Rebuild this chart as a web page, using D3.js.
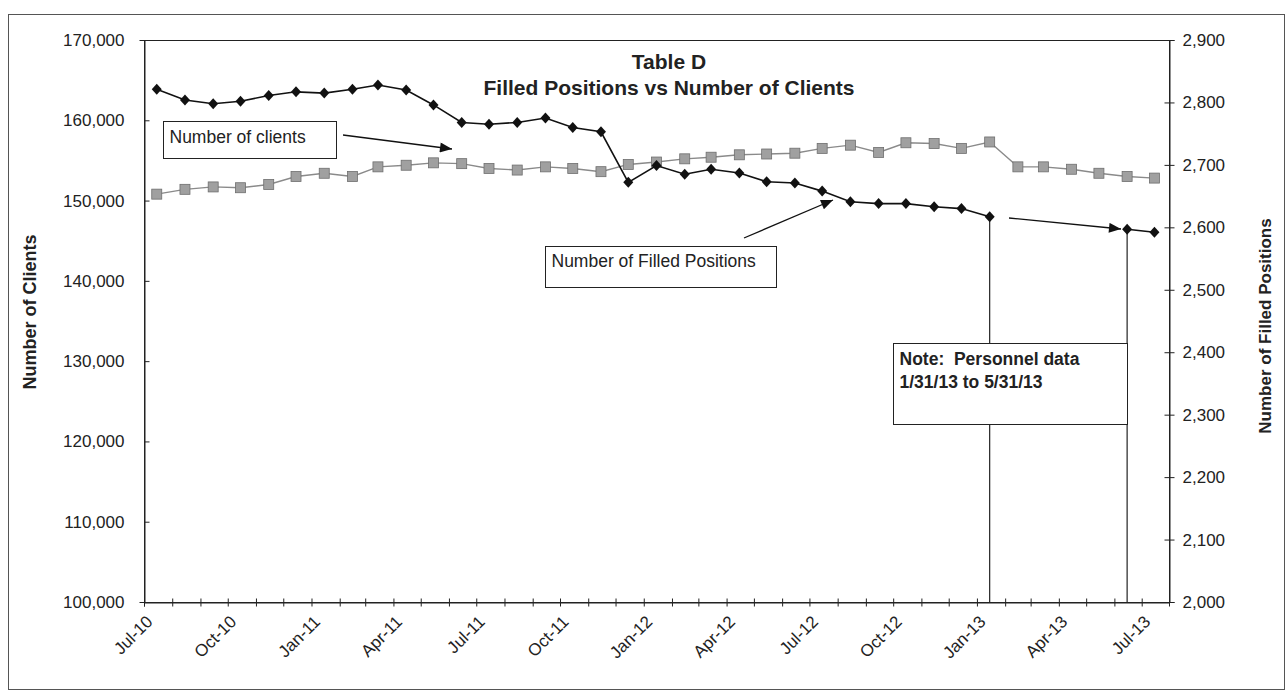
<!DOCTYPE html>
<html>
<head>
<meta charset="utf-8">
<script src="https://cdn.jsdelivr.net/npm/d3@7/dist/d3.min.js"></script>
<style>
  body { margin: 0; background: #fff; }
  svg { font-family: "Liberation Sans", Arial, sans-serif; }
</style>
</head>
<body>
<svg id="chart"></svg>
<script>
const months = [
  "Jul-10", "Aug-10", "Sep-10", "Oct-10", "Nov-10", "Dec-10",
  "Jan-11", "Feb-11", "Mar-11", "Apr-11", "May-11", "Jun-11",
  "Jul-11", "Aug-11", "Sep-11", "Oct-11", "Nov-11", "Dec-11",
  "Jan-12", "Feb-12", "Mar-12", "Apr-12", "May-12", "Jun-12",
  "Jul-12", "Aug-12", "Sep-12", "Oct-12", "Nov-12", "Dec-12",
  "Jan-13", "Feb-13", "Mar-13", "Apr-13", "May-13", "Jun-13", "Jul-13"
]

// number of clients (left axis)
const clients = [
  150800, 151400, 151700, 151600, 152000, 153000,
  153400, 153000, 154200, 154400, 154700, 154600,
  154000, 153800, 154200, 154000, 153600, 154500,
  154800, 155200, 155400, 155700, 155800, 155900,
  156500, 156900, 156000, 157200, 157100, 156500,
  157300, 154200, 154200, 153900, 153400, 153000, 152800
]

// number of filled positions (right axis), no personnel data Feb-May 13
const filledPositions = [
  2821, 2804, 2798, 2802, 2811, 2817,
  2815, 2821, 2828, 2820, 2796, 2768,
  2765, 2768, 2775, 2760, 2753, 2672,
  2699, 2685, 2693, 2687, 2673, 2671,
  2658, 2641, 2638, 2638, 2633, 2630,
  2617, null, null, null, null, 2597, 2592
]

const clientTicks = [100000, 110000, 120000, 130000, 140000, 150000, 160000, 170000]
const positionTicks = [2000, 2100, 2200, 2300, 2400, 2500, 2600, 2700, 2800, 2900]

const titleLines = ["Table D", "Filled Positions vs Number of Clients"]

const svgWidth = 1286, svgHeight = 694
const plot = {left: 144, right: 1169, top: 40, bottom: 602}

const svg = d3.select("#chart")
  .attr("width", svgWidth)
  .attr("height", svgHeight)

svg.append("rect")
  .attr("width", svgWidth).attr("height", svgHeight)
  .attr("fill", "#fff")

// outer frame of the scanned figure
svg.append("rect")
  .attr("x", 8.5).attr("y", 14.5)
  .attr("width", 1276).attr("height", 675)
  .attr("fill", "none")
  .attr("stroke", "#555")
  .attr("stroke-width", 1)

const parseMonth = d3.timeParse("%b-%y")
const rows = months.map((m, i) => ({
  date: d3.timeDay.offset(parseMonth(m), 14),
  clients: clients[i],
  positions: filledPositions[i]
}))

const x = d3.scaleTime()
  .domain([new Date(2010, 6, 1), new Date(2013, 6, 31)])
  .range([plot.left, plot.right])
const yLeft = d3.scaleLinear()
  .domain([100000, 170000])
  .range([plot.bottom, plot.top])
const yRight = d3.scaleLinear()
  .domain([2000, 2900])
  .range([plot.bottom, plot.top])

// plot frame
svg.append("rect")
  .attr("x", plot.left + 0.5).attr("y", plot.top + 0.5)
  .attr("width", plot.right - plot.left).attr("height", plot.bottom - plot.top)
  .attr("fill", "none")
  .attr("stroke", "#222")

const fmtMonth = d3.timeFormat("%b-%y")

// x axis
const xAxis = svg.append("g")
  .attr("transform", `translate(0,${plot.bottom + 0.5})`)
  .call(d3.axisBottom(x)
    .ticks(d3.timeMonth.every(1))
    .tickSize(4)
    .tickFormat(d => d.getMonth() % 3 === 0 ? fmtMonth(d) : ""))
xAxis.select(".domain").attr("stroke", "#222")
xAxis.selectAll(".tick line").attr("y1", -4).attr("stroke", "#222")
xAxis.selectAll(".tick text")
  .attr("font-size", 17)
  .attr("fill", "#222")
  .attr("text-anchor", "end")
  .attr("transform", "translate(5,16) rotate(-45)")
  .attr("x", 0).attr("y", 0).attr("dy", "0.35em")

// left axis
const leftAxis = svg.append("g")
  .attr("transform", `translate(${plot.left + 0.5},0)`)
  .call(d3.axisLeft(yLeft).tickValues(clientTicks).tickSize(5).tickFormat(d3.format(",")))
leftAxis.select(".domain").attr("stroke", "#222")
leftAxis.selectAll(".tick line").attr("x2", 5).attr("stroke", "#222")
leftAxis.selectAll(".tick text")
  .attr("font-size", 17).attr("fill", "#222").attr("x", -20)

// right axis
const rightAxis = svg.append("g")
  .attr("transform", `translate(${plot.right + 0.5},0)`)
  .call(d3.axisRight(yRight).tickValues(positionTicks).tickSize(5).tickFormat(d3.format(",")))
rightAxis.select(".domain").attr("stroke", "#222")
rightAxis.selectAll(".tick line").attr("x1", -5).attr("stroke", "#222")
rightAxis.selectAll(".tick text")
  .attr("font-size", 17).attr("fill", "#222").attr("x", 13)

// axis titles
svg.append("text")
  .attr("transform", `translate(36,312) rotate(-90)`)
  .attr("text-anchor", "middle")
  .attr("font-size", 18).attr("font-weight", "bold").attr("fill", "#222")
  .text("Number of Clients")
svg.append("text")
  .attr("transform", `translate(1271,326) rotate(-90)`)
  .attr("text-anchor", "middle")
  .attr("font-size", 17).attr("font-weight", "bold").attr("fill", "#222")
  .text("Number of Filled Positions")

// title
svg.append("text")
  .attr("text-anchor", "middle")
  .attr("font-size", 21).attr("font-weight", "bold").attr("fill", "#222")
  .selectAll("tspan")
  .data(titleLines)
  .enter().append("tspan")
  .attr("x", 669)
  .attr("y", (d, i) => 69 + i * 26)
  .text(d => d)

// drop lines for the personnel data gap
const gapEnds = rows.filter((d, i) => d.positions != null &&
  ((filledPositions[i + 1] === null) || (filledPositions[i - 1] === null)))
svg.append("g")
  .selectAll("line")
  .data(gapEnds)
  .enter().append("line")
  .attr("x1", d => x(d.date)).attr("x2", d => x(d.date))
  .attr("y1", d => yRight(d.positions)).attr("y2", plot.bottom)
  .attr("stroke", "#222").attr("stroke-width", 1.2)

// clients series
svg.append("path")
  .datum(rows)
  .attr("fill", "none")
  .attr("stroke", "#8a8a8a")
  .attr("stroke-width", 1.4)
  .attr("d", d3.line().x(d => x(d.date)).y(d => yLeft(d.clients)))

svg.append("g")
  .selectAll("rect")
  .data(rows)
  .enter().append("rect")
  .attr("x", d => x(d.date) - 5)
  .attr("y", d => yLeft(d.clients) - 5)
  .attr("width", 10).attr("height", 10)
  .attr("fill", "#a0a0a0")
  .attr("stroke", "#6e6e6e")
  .attr("stroke-width", 0.8)

// filled positions series
svg.append("path")
  .datum(rows)
  .attr("fill", "none")
  .attr("stroke", "#111")
  .attr("stroke-width", 1.6)
  .attr("d", d3.line()
    .defined(d => d.positions != null)
    .x(d => x(d.date)).y(d => yRight(d.positions)))

svg.append("g")
  .selectAll("path")
  .data(rows.filter(d => d.positions != null))
  .enter().append("path")
  .attr("transform", d => `translate(${x(d.date)},${yRight(d.positions)})`)
  .attr("d", "M0,-5.5L5,0L0,5.5L-5,0Z")
  .attr("fill", "#111")

// annotations
svg.append("defs").append("marker")
  .attr("id", "arrow")
  .attr("viewBox", "0 0 12 10")
  .attr("refX", 12).attr("refY", 5)
  .attr("markerWidth", 13).attr("markerHeight", 10)
  .attr("markerUnits", "userSpaceOnUse")
  .attr("orient", "auto")
  .append("path")
  .attr("d", "M0,0L12,5L0,10Z")
  .attr("fill", "#111")

const arrows = [
  {x1: 343, y1: 135, x2: 452, y2: 149},
  {x1: 744, y1: 238, x2: 833, y2: 200},
  {x1: 1009, y1: 218, x2: 1121, y2: 229}
]
svg.append("g")
  .selectAll("line")
  .data(arrows)
  .enter().append("line")
  .attr("x1", d => d.x1).attr("y1", d => d.y1)
  .attr("x2", d => d.x2).attr("y2", d => d.y2)
  .attr("stroke", "#111").attr("stroke-width", 1.3)
  .attr("marker-end", "url(#arrow)")

const boxes = [
  {x: 163, y: 121, w: 173, h: 37, lines: ["Number of clients"], bold: false, base: 21},
  {x: 545, y: 246, w: 231, h: 41, lines: ["Number of Filled Positions"], bold: false, base: 20},
  {x: 893, y: 343, w: 234, h: 81, lines: ["Note:  Personnel data", "1/31/13 to 5/31/13"], bold: true, base: 21}
]
const box = svg.append("g")
  .selectAll("g")
  .data(boxes)
  .enter().append("g")
  .attr("transform", d => `translate(${d.x + 0.5},${d.y + 0.5})`)
box.append("rect")
  .attr("width", d => d.w).attr("height", d => d.h)
  .attr("fill", "#fff")
  .attr("stroke", "#222")
box.each(function (d) {
  const t = d3.select(this).append("text")
    .attr("font-size", 17.5)
    .attr("font-weight", d.bold ? "bold" : "normal")
    .attr("fill", "#222")
  d.lines.forEach((line, i) => {
    t.append("tspan")
      .attr("x", 6)
      .attr("y", d.base + i * 23)
      .attr("xml:space", "preserve")
      .text(line)
  })
})
</script>
</body>
</html>
